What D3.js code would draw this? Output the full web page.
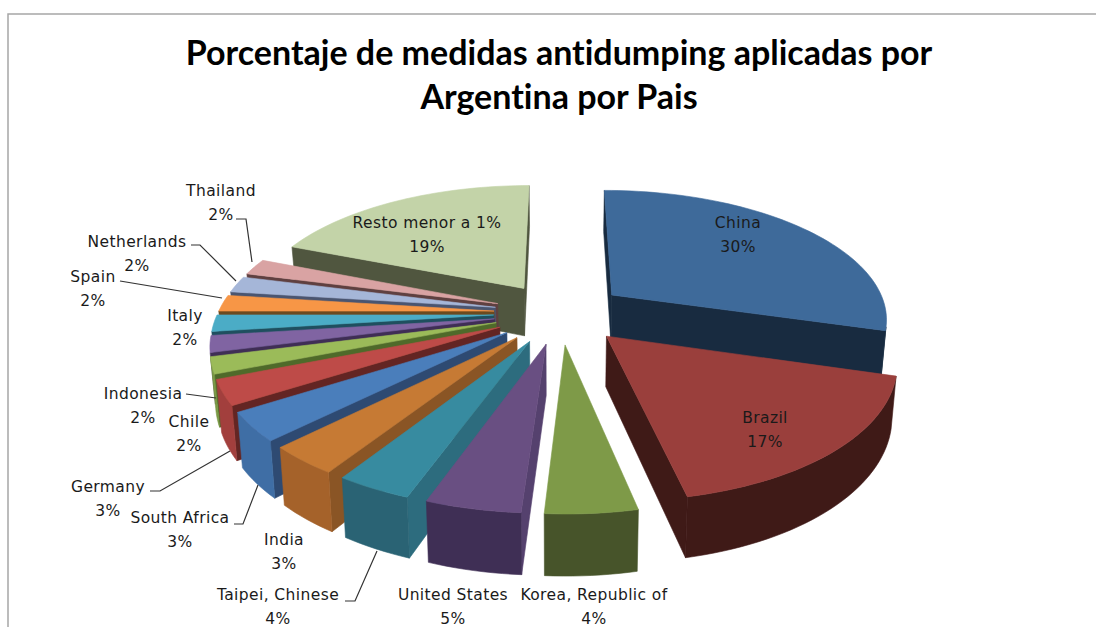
<!DOCTYPE html>
<meta charset="utf-8">
<style>
body { margin: 0; background: #fff; }
.label { font-family: "DejaVu Sans", sans-serif; font-size: 15.5px; letter-spacing: 0.4px; fill: #1a1a1a; text-anchor: middle; }
.title { font-family: Lato, sans-serif; font-weight: 700; font-size: 34px; font-variant-ligatures: none; fill: #000; text-anchor: middle; }
.leader { fill: none; stroke: #333; stroke-width: 1.2px; }
</style>
<svg width="1096" height="627"></svg>
<script src="https://d3js.org/d3.v7.min.js"></script>
<script>

var countries = ["China", "Brazil", "Korea, Republic of", "United States", "Taipei, Chinese", "India", "South Africa", "Germany", "Chile", "Indonesia", "Italy", "Spain", "Netherlands", "Thailand", "Resto menor a 1%"];
// the labels show these rounded
var shares = [29.5, 17.17, 4.33, 4.5, 3.6, 3.45, 3.45, 3, 2, 2, 2, 2, 2, 2, 19];

var topColors = ["#3e6a9a", "#9a3f3c", "#7e9a48", "#694f82", "#378ba0", "#c67a34", "#4a7ebb", "#be4b48", "#9bbb59", "#8064a2", "#4bacc6", "#f79646", "#a5b6d8", "#d9a3a3", "#c3d3a8"];
var rimColors = ["#182b40", "#3f1a17", "#47542a", "#3f2f55", "#2a6374", "#a5622a", "#3f6ea5", "#a23f3d", "#7a9a45", "#5f4a7a", "#35889f", "#c47a35", "#7f8fae", "#a87f7f", "#50563f"];
var cutColors = ["#182b40", "#3f1a17", "#47542a", "#55416e", "#2d6c7e", "#8a5525", "#2e4a72", "#632523", "#4f6a2a", "#3f2e55", "#1f4f5f", "#6b4a1f", "#4a5570", "#5f4040", "#50563f"];

// label anchors, one per country: x, y of first line
var labelPos = [[738, 228], [765, 423], [594, 600], [453, 600], [278, 600], [284, 545], [180, 523], [108, 492], [189, 427], [143, 399], [185, 321], [93, 282], [137, 247], [221, 196], [427, 228]];

var leaders = [
  [[236, 219], [246, 219], [252, 262]],
  [[191, 245], [200, 245], [236, 281]],
  [[120, 281], [222, 298]],
  [[186, 394], [216, 398]],
  [[150, 491], [160, 491], [230, 451]],
  [[234, 524], [243, 524], [258, 485]],
  [[345, 601], [355, 601], [377, 551]]
];

var svg = d3.select("svg"),
    cx = 560, cy = 313,
    rx = 276, ry = 128,
    persp = 0.17,
    explode = 0.24,
    depth = 49;

svg.append("path")
    .attr("d", "M1096,14H8V627")
    .attr("fill", "none")
    .attr("stroke", "#a6a6a6")
    .attr("stroke-width", 1.5);

var title = svg.append("g");
title.append("text").attr("class", "title").attr("x", 559).attr("y", 65).text("Porcentaje de medidas antidumping aplicadas por");
title.append("text").attr("class", "title").attr("x", 559).attr("y", 109).text("Argentina por Pais");

var arcs = d3.pie().value(function(d, i) { return shares[i]; }).sort(null)(countries);

// plane coordinates (X right, Z toward viewer) to the screen
function project(X, Z, down) {
  var w = 1 / (1 - persp * Z),
      shrink = down ? 0.985 : 1;
  return [cx + X * rx * w * shrink, cy + Z * ry * w + (down ? depth * w : 0)];
}

var polyLine = d3.line();

function poly(g, pts, color) {
  g.append("path")
      .attr("d", polyLine(pts) + "Z")
      .attr("fill", color)
      .attr("stroke", color)
      .attr("stroke-width", 0.6);
}

var order = arcs.slice().sort(function(a, b) {
  var ma = (a.startAngle + a.endAngle) / 2, mb = (b.startAngle + b.endAngle) / 2;
  return -Math.cos(ma) + Math.cos(mb);
});

order.forEach(function(d) {
  var i = d.index,
      g = svg.append("g"),
      mid = (d.startAngle + d.endAngle) / 2,
      ox = Math.sin(mid) * explode,
      oz = -Math.cos(mid) * explode;

  var n = Math.max(2, Math.ceil((d.endAngle - d.startAngle) / 0.03)),
      angles = d3.range(n + 1).map(function(k) { return d.startAngle + (d.endAngle - d.startAngle) * k / n; }),
      rim = angles.map(function(a) { return [ox + Math.sin(a), oz - Math.cos(a)]; });

  var apexT = project(ox, oz), apexB = project(ox, oz, true),
      top = rim.map(function(p) { return project(p[0], p[1]); }),
      bot = rim.map(function(p) { return project(p[0], p[1], true); });

  // cut faces, only the ones turned to the viewer
  var startQ = [apexT, top[0], bot[0], apexB],
      endQ = [apexT, top[n], bot[n], apexB];
  if (d3.polygonArea(startQ) > 0) poly(g, startQ, cutColors[i]);
  if (d3.polygonArea(endQ) < 0) poly(g, endQ, cutColors[i]);

  // outer wall, one polygon per run of segments facing the viewer
  var run = [];
  function flush() {
    if (run.length) {
      var upper = run.map(function(k) { return top[k]; }),
          lower = run.map(function(k) { return bot[k]; }).reverse();
      poly(g, upper.concat(lower), rimColors[i]);
    }
    run = [];
  }
  d3.range(n).forEach(function(k) {
    var q = [top[k], top[k + 1], bot[k + 1], bot[k]];
    if (d3.polygonArea(q) > 0) {
      if (!run.length) run.push(k);
      run.push(k + 1);
    } else {
      flush();
    }
  });
  flush();

  poly(g, [apexT].concat(top), topColors[i]);
});

svg.selectAll(".leader")
  .data(leaders)
  .enter().append("path")
    .attr("class", "leader")
    .attr("d", polyLine);

countries.forEach(function(name, i) {
  var t = svg.append("text").attr("class", "label");
  t.append("tspan").attr("x", labelPos[i][0]).attr("y", labelPos[i][1]).text(name);
  t.append("tspan").attr("x", labelPos[i][0]).attr("y", labelPos[i][1] + 24).text(Math.round(shares[i]) + "%");
});

</script>
